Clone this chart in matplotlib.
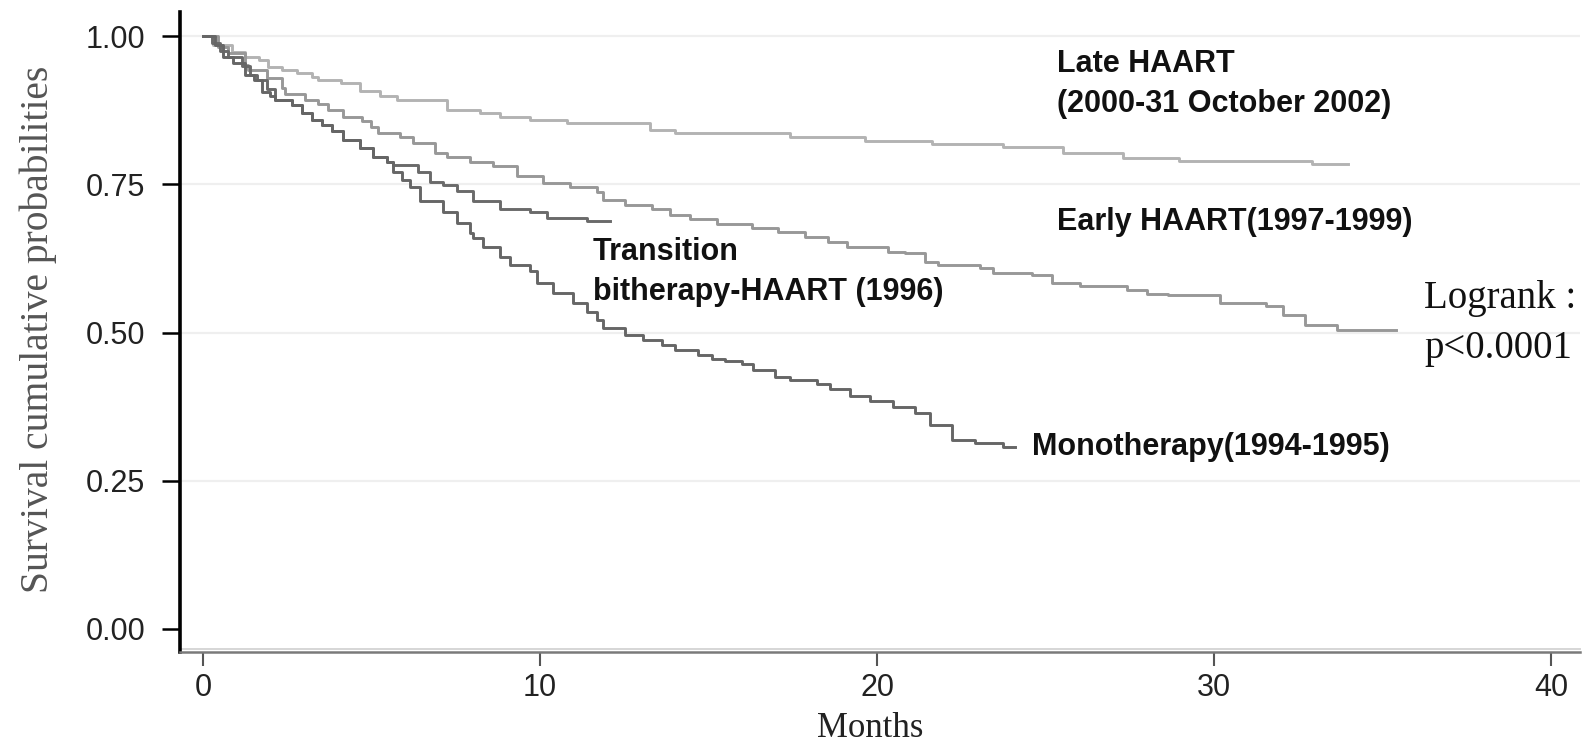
import matplotlib
matplotlib.use("Agg")
import matplotlib.pyplot as plt
from matplotlib.lines import Line2D

# ---------------- data ----------------
late_t = [0, 0.30, 0.86, 1.25, 1.65, 1.94, 2.33, 2.78, 3.22, 3.42, 4.11, 4.66, 5.25, 5.75,
          7.23, 8.22, 8.81, 9.70, 10.79, 13.26, 14.01, 17.42, 19.64, 21.62, 23.75, 25.53,
          27.30, 28.96, 32.90, 33.98]
late_s = [1.000, 0.985, 0.973, 0.965, 0.960, 0.948, 0.943, 0.937, 0.931, 0.926, 0.920, 0.908,
          0.899, 0.892, 0.876, 0.870, 0.863, 0.858, 0.853, 0.841, 0.836, 0.830, 0.823, 0.818,
          0.812, 0.802, 0.795, 0.790, 0.784, 0.784]

early_t = [0, 0.45, 0.75, 1.25, 1.34, 1.89, 2.33, 2.43, 3.03, 3.42, 3.72, 4.16, 4.71, 5.00,
           5.20, 5.85, 6.24, 6.88, 7.23, 7.92, 8.61, 9.31, 10.10, 10.89, 11.68, 11.88, 12.52,
           13.31, 13.86, 14.45, 15.24, 16.28, 17.07, 17.86, 18.56, 19.10, 20.34, 20.83, 21.42,
           21.82, 23.06, 23.45, 24.60, 25.20, 26.03, 27.41, 28.01, 28.62, 30.17, 31.55, 32.05,
           32.71, 33.65, 35.39]
early_s = [1.000, 0.982, 0.971, 0.951, 0.943, 0.929, 0.912, 0.903, 0.892, 0.886, 0.875, 0.864,
           0.856, 0.847, 0.836, 0.830, 0.819, 0.802, 0.796, 0.788, 0.780, 0.764, 0.752, 0.746,
           0.737, 0.723, 0.715, 0.708, 0.698, 0.691, 0.683, 0.676, 0.670, 0.661, 0.653, 0.644,
           0.636, 0.634, 0.619, 0.614, 0.608, 0.601, 0.597, 0.583, 0.578, 0.572, 0.565, 0.563,
           0.550, 0.544, 0.530, 0.513, 0.504, 0.504]

trans_t = [0, 0.26, 0.50, 0.75, 1.15, 1.40, 1.59, 1.89, 2.14, 2.63, 2.93, 3.22, 3.52, 3.82,
           4.16, 4.66, 5.05, 5.45, 5.65, 6.39, 6.74, 7.13, 7.53, 8.02, 8.81, 9.70, 10.20,
           11.39, 12.08]
trans_s = [1.000, 0.988, 0.975, 0.965, 0.950, 0.935, 0.925, 0.910, 0.892, 0.884, 0.870, 0.858,
           0.850, 0.839, 0.825, 0.811, 0.796, 0.788, 0.782, 0.771, 0.754, 0.749, 0.739, 0.721,
           0.709, 0.704, 0.693, 0.688, 0.688]

mono_t = [0, 0.35, 0.60, 0.90, 1.25, 1.50, 1.75, 2.00, 2.14, 2.63, 2.93, 3.22, 3.52, 3.82,
          4.16, 4.66, 5.05, 5.45, 5.65, 5.90, 6.14, 6.44, 7.13, 7.53, 7.92, 8.02, 8.32, 8.81,
          9.11, 9.70, 9.90, 10.40, 10.99, 11.39, 11.70, 11.88, 12.52, 13.07, 13.61, 14.01,
          14.70, 15.09, 15.49, 15.98, 16.33, 16.97, 17.42, 18.21, 18.61, 19.20, 19.79, 20.48,
          21.13, 21.57, 22.22, 22.91, 23.75, 24.09]
mono_s = [1.000, 0.985, 0.965, 0.955, 0.935, 0.925, 0.905, 0.898, 0.892, 0.884, 0.870, 0.858,
          0.850, 0.839, 0.825, 0.811, 0.796, 0.788, 0.770, 0.757, 0.746, 0.721, 0.704, 0.684,
          0.667, 0.659, 0.645, 0.628, 0.614, 0.603, 0.583, 0.566, 0.549, 0.535, 0.521, 0.507,
          0.496, 0.487, 0.479, 0.470, 0.462, 0.456, 0.452, 0.447, 0.437, 0.425, 0.420, 0.414,
          0.404, 0.393, 0.385, 0.375, 0.364, 0.344, 0.319, 0.313, 0.307, 0.307]

x_ticks = [0, 10, 20, 30, 40]
y_ticks = [0.00, 0.25, 0.50, 0.75, 1.00]
y_tick_labels = ["0.00", "0.25", "0.50", "0.75", "1.00"]
grid_levels = [0.25, 0.50, 0.75, 1.00]

label_late = "Late HAART\n(2000-31 October 2002)"
label_early = "Early HAART(1997-1999)"
label_trans = "Transition\nbitherapy-HAART (1996)"
label_mono = "Monotherapy(1994-1995)"
logrank_text = "Logrank :\np<0.0001"
x_label = "Months"
y_label = "Survival cumulative probabilities"

# ---------------- figure ----------------
SANS = "Liberation Sans"
SERIF = "Liberation Serif"

fig = plt.figure(figsize=(15.84, 7.46), dpi=100)
ax = fig.add_axes([180 / 1584, 1 - 652 / 746, 1400 / 1584, 640 / 746])
ax.set_xlim(-0.682, 40.86)
ax.set_ylim(-0.0388, 1.0405)

for yv in grid_levels:
    ax.axhline(yv, color="#efefef", lw=1.6, zorder=0)

ax.step(late_t, late_s, where="post", color="#b3b3b3", lw=2.1, zorder=3)
ax.step(early_t, early_s, where="post", color="#989898", lw=2.1, zorder=3)
ax.step(trans_t, trans_s, where="post", color="#6a6a6a", lw=2.1, zorder=4)
ax.step(mono_t, mono_s, where="post", color="#666666", lw=2.1, zorder=4)

# spines
ax.spines["top"].set_visible(False)
ax.spines["right"].set_visible(False)
ax.spines["left"].set_color("black")
ax.spines["left"].set_linewidth(2.6)
ax.spines["bottom"].set_color("#7a7a7a")
ax.spines["bottom"].set_linewidth(1.8)
ax.add_line(Line2D([0, 1], [0.0045, 0.0045], transform=ax.transAxes,
                   color="#d6d6d6", lw=1.4, clip_on=False, zorder=2))

# ticks
ax.set_xticks(x_ticks)
ax.set_xticklabels([str(v) for v in x_ticks])
ax.set_yticks(y_ticks)
ax.set_yticklabels(y_tick_labels)
ax.tick_params(axis="y", length=13, width=1.8, color="black", pad=12,
               labelsize=22, labelcolor="#222222")
ax.tick_params(axis="x", length=10, width=1.5, color="#555555", pad=5,
               labelsize=22, labelcolor="#222222")
for lab in ax.get_xticklabels() + ax.get_yticklabels():
    lab.set_fontfamily(SANS)
ax.yaxis.get_major_ticks()[0].tick1line.set_color("#888888")

# curve labels
tkw = dict(fontsize=22, fontweight="bold", family=SANS, color="#111111",
           ha="left", va="baseline")
ax.text(25.34, 0.939, label_late.split("\n")[0], **tkw)
ax.text(25.34, 0.872, label_late.split("\n")[1], **tkw)
ax.text(25.34, 0.673, label_early, **tkw)
ax.text(11.57, 0.622, label_trans.split("\n")[0], **tkw)
ax.text(11.57, 0.555, label_trans.split("\n")[1], **tkw)
ax.text(24.60, 0.293, label_mono, **tkw)

skw = dict(fontsize=28, family=SERIF, color="#111111", ha="left", va="baseline")
ax.text(36.23, 0.541, logrank_text.split("\n")[0], clip_on=False, **skw)
ax.text(36.23, 0.457, logrank_text.split("\n")[1], clip_on=False, **skw)

# axis titles
fig.text(38 / 1584, 1 - 329 / 746, y_label, rotation=90, ha="center", va="center",
         fontsize=28.5, family=SERIF, color="#555555")
fig.text(870 / 1584, 0.012, x_label, ha="center", va="baseline",
         fontsize=25, family=SERIF, color="#222222")

fig.savefig("out.png", dpi=100)
